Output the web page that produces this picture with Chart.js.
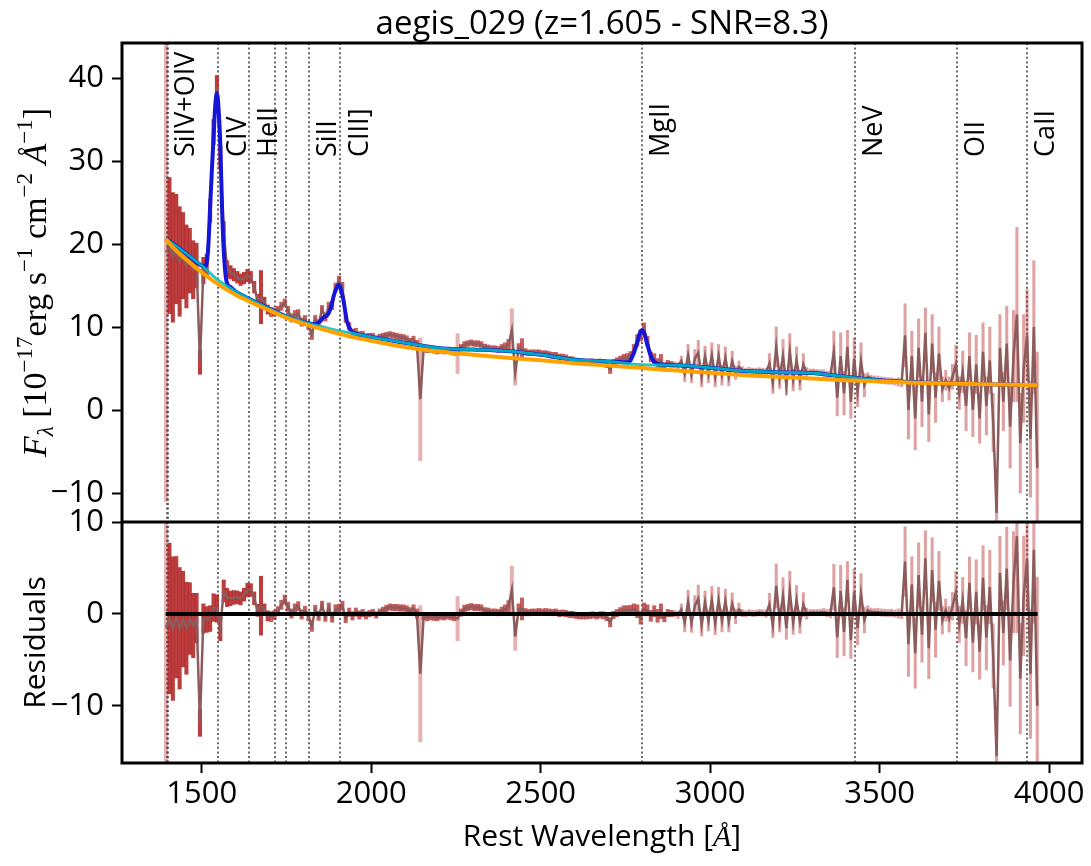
<!DOCTYPE html>
<html>
<head>
<meta charset="utf-8">
<script src="https://cdn.jsdelivr.net/npm/chart.js@4.4.1/dist/chart.umd.min.js"></script>
<style>
  html, body { margin: 0; padding: 0; background: #fff; }
</style>
</head>
<body>
<canvas id="spec" width="1091" height="866"></canvas>
<script>
// Rest-frame spectrum, 10 A grid
const wave = [
  1395, 1405, 1415, 1425, 1435, 1445, 1455, 1465, 1475, 1485,
  1495, 1505, 1515, 1525, 1535, 1545, 1555, 1565, 1575, 1585,
  1595, 1605, 1615, 1625, 1635, 1645, 1655, 1665, 1675, 1685,
  1695, 1705, 1715, 1725, 1735, 1745, 1755, 1765, 1775, 1785,
  1795, 1805, 1815, 1825, 1835, 1845, 1855, 1865, 1875, 1885,
  1895, 1905, 1915, 1925, 1935, 1945, 1955, 1965, 1975, 1985,
  1995, 2005, 2015, 2025, 2035, 2045, 2055, 2065, 2075, 2085,
  2095, 2105, 2115, 2125, 2135, 2145, 2155, 2165, 2175, 2185,
  2195, 2205, 2215, 2225, 2235, 2245, 2255, 2265, 2275, 2285,
  2295, 2305, 2315, 2325, 2335, 2345, 2355, 2365, 2375, 2385,
  2395, 2405, 2415, 2425, 2435, 2445, 2455, 2465, 2475, 2485,
  2495, 2505, 2515, 2525, 2535, 2545, 2555, 2565, 2575, 2585,
  2595, 2605, 2615, 2625, 2635, 2645, 2655, 2665, 2675, 2685,
  2695, 2705, 2715, 2725, 2735, 2745, 2755, 2765, 2775, 2785,
  2795, 2805, 2815, 2825, 2835, 2845, 2855, 2865, 2875, 2885,
  2895, 2905, 2915, 2925, 2935, 2945, 2955, 2965, 2975, 2985,
  2995, 3005, 3015, 3025, 3035, 3045, 3055, 3065, 3075, 3085,
  3095, 3105, 3115, 3125, 3135, 3145, 3155, 3165, 3175, 3185,
  3195, 3205, 3215, 3225, 3235, 3245, 3255, 3265, 3275, 3285,
  3295, 3305, 3315, 3325, 3335, 3345, 3355, 3365, 3375, 3385,
  3395, 3405, 3415, 3425, 3435, 3445, 3455, 3465, 3475, 3485,
  3495, 3505, 3515, 3525, 3535, 3545, 3555, 3565, 3575, 3585,
  3595, 3605, 3615, 3625, 3635, 3645, 3655, 3665, 3675, 3685,
  3695, 3705, 3715, 3725, 3735, 3745, 3755, 3765, 3775, 3785,
  3795, 3805, 3815, 3825, 3835, 3845, 3855, 3865, 3875, 3885,
  3895, 3905, 3915, 3925, 3935, 3945, 3955, 3965
];

const flux = [
  19.0, 19.8, 18.4, 19.4, 17.9, 18.6, 17.3, 18.0, 16.9, 17.4,
  5.8, 16.8, 17.4, 24.0, 33.5, 38.8, 30.5, 21.5, 17.0, 16.6,
  16.3, 16.0, 15.7, 15.9, 16.2, 16.0, 14.8, 13.3, 13.6, 13.0,
  12.1, 11.8, 11.8, 12.0, 12.5, 12.9, 12.0, 11.1, 11.5, 11.6,
  10.6, 10.9, 10.2, 9.1, 10.9, 10.4, 12.1, 11.2, 12.5, 12.6,
  14.8, 15.6, 14.9, 11.0, 10.1, 9.3, 9.4, 9.0, 9.1, 8.8,
  8.9, 8.9, 8.6, 8.8, 8.9, 9.0, 9.1, 9.0, 8.9, 8.8,
  8.75, 8.6, 8.3, 8.5, 7.9, 1.3, 7.5, 7.3, 7.3, 7.2,
  7.1, 7.2, 7.1, 7.2, 7.1, 7.0, 6.8, 7.5, 7.9, 8.0,
  8.1, 8.0, 8.0, 7.9, 7.6, 7.5, 7.4, 7.4, 7.3, 7.5,
  7.6, 7.8, 9.6, 4.5, 7.4, 7.4, 7.0, 6.9, 6.9, 6.9,
  6.9, 6.8, 6.8, 6.7, 6.6, 6.6, 6.4, 6.4, 6.3, 6.1,
  6.05, 5.9, 5.8, 5.8, 5.75, 5.8, 5.8, 5.7, 5.8, 5.7,
  5.5, 4.9, 5.7, 5.9, 6.1, 6.2, 6.3, 6.5, 7.3, 8.4,
  9.0, 9.8, 8.3, 6.4, 6.2, 5.5, 5.9, 5.2, 5.6, 5.5,
  5.45, 5.3, 5.9, 4.4, 6.6, 4.3, 6.2, 6.9, 4.0, 6.5,
  4.4, 6.6, 4.0, 6.5, 4.2, 6.3, 4.0, 5.9, 4.5, 5.2,
  4.8, 4.7, 4.8, 4.7, 4.7, 4.75, 4.7, 4.6, 5.6, 3.3,
  7.6, 3.9, 6.5, 3.0, 7.0, 3.6, 6.0, 3.6, 5.5, 4.5,
  4.6, 4.6, 4.55, 4.5, 4.45, 4.3, 4.2, 7.0, 1.5, 6.5,
  2.0, 7.6, 1.0, 6.2, 2.2, 5.9, 3.0, 4.0, 3.8, 3.7,
  3.7, 3.6, 3.55, 3.5, 3.5, 3.4, 3.4, 3.3, 9.0, 0.0,
  6.5, -1.0, 7.5, 1.0, 9.3, -0.5, 8.0, 1.5, 6.8, 2.5,
  3.6, 2.6, 4.0, 5.5, 2.0, 4.6, 0.5, 6.5, 0.0, 5.5,
  -1.0, 7.0, 0.5, 6.0, -1.5, -12.4, 7.5, 1.0, 8.0, -2.0,
  6.5, 11.5, -4.0, 5.0, 9.0, -3.5, 10.0, -7.0
];

const fluxErr = [
  30, 8.2, 7.8, 6.6, 6.6, 5.2, 5.0, 3.9, 3.5, 2.7,
  1.5, 1.6, 1.4, 1.4, 1.5, 1.5, 1.4, 1.2, 1.0, 0.8,
  0.75, 0.7, 0.7, 0.7, 0.75, 0.7, 0.7, 0.65, 3.2, 0.6,
  0.55, 0.55, 0.5, 0.5, 0.5, 0.5, 0.5, 0.5, 0.5, 0.5,
  0.5, 0.5, 0.5, 0.6, 0.5, 0.5, 0.5, 0.5, 0.5, 0.5,
  0.5, 0.55, 0.5, 0.45, 0.45, 0.45, 0.45, 0.45, 0.4, 0.4,
  0.35, 0.35, 0.35, 0.35, 0.35, 0.35, 0.35, 0.35, 0.35, 0.35,
  0.35, 0.35, 0.35, 0.4, 0.5, 7.4, 0.4, 0.4, 0.35, 0.35,
  0.35, 0.35, 0.35, 0.35, 0.35, 0.4, 2.4, 0.4, 0.35, 0.35,
  0.35, 0.35, 0.35, 0.35, 0.35, 0.35, 0.35, 0.35, 0.35, 0.4,
  0.5, 0.7, 2.6, 1.5, 0.6, 1.2, 0.4, 0.35, 0.35, 0.35,
  0.35, 0.35, 0.35, 0.35, 0.35, 0.35, 0.35, 0.35, 0.35, 0.35,
  0.35, 0.35, 0.35, 0.35, 0.35, 0.35, 0.35, 0.35, 0.35, 0.4,
  0.4, 0.5, 0.4, 0.4, 0.4, 0.5, 0.5, 0.55, 0.6, 0.7,
  0.7, 0.7, 0.6, 0.6, 0.6, 0.7, 0.8, 0.5, 0.4, 0.35,
  0.35, 0.4, 0.6, 1.0, 1.3, 1.0, 1.1, 1.5, 1.2, 1.2,
  1.1, 1.5, 1.2, 1.4, 1.2, 1.3, 1.1, 1.2, 0.8, 0.7,
  0.4, 0.35, 0.35, 0.35, 0.35, 0.35, 0.35, 0.4, 1.2, 1.3,
  2.4, 1.3, 2.0, 1.2, 2.2, 1.3, 1.6, 1.2, 1.3, 0.6,
  0.35, 0.35, 0.35, 0.35, 0.4, 0.4, 0.5, 2.5, 2.2, 2.8,
  2.6, 2.0, 2.0, 2.5, 1.8, 2.2, 1.4, 0.5, 0.4, 0.4,
  0.4, 0.4, 0.4, 0.4, 0.4, 0.4, 0.5, 0.5, 3.8, 3.5,
  3.0, 3.8, 3.5, 3.0, 3.0, 3.3, 3.5, 3.0, 3.2, 1.5,
  1.2, 1.4, 1.5, 2.3, 2.0, 2.5, 3.0, 2.8, 3.2, 3.5,
  3.0, 3.5, 3.5, 4.0, 3.5, 3.0, 4.0, 3.5, 4.5, 5.0,
  5.5, 10.5, 6.0, 6.5, 5.5, 7.0, 8.0, 14
];

// data minus full model (lower panel)
const resid = [
  -1.5, -0.5, -1.6, -0.35, -1.55, -0.55, -1.55, -0.5, -1.25, -0.45,
  -11.8, -0.5, -0.6, -0.5, 0.7, 0.6, -1.5, 2.5, 1.8, 1.7,
  1.8, 1.8, 1.7, 2.1, 2.6, 2.6, 1.7, 0.4, 0.9, 0.5,
  -0.2, -0.3, -0.1, 0.3, 1.0, 1.55, 0.8, 0.05, 0.6, 0.85,
  -0.05, 0.35, -0.25, -1.3, 0.45, -0.2, 0.9, -0.3, 0.7, -0.4,
  0.5, 0.5, 0.9, -0.5, 0.2, -0.2, 0.2, -0.1, 0.1, -0.15,
  0.05, 0.15, -0.1, 0.2, 0.4, 0.6, 0.75, 0.7, 0.7, 0.65,
  0.65, 0.55, 0.35, 0.6, 0.05, -6.5, -0.2, -0.35, -0.3, -0.35,
  -0.4, -0.25, -0.3, -0.2, -0.3, -0.35, -0.5, 0.15, 0.6, 0.7,
  0.8, 0.7, 0.7, 0.65, 0.35, 0.3, 0.2, 0.2, 0.15, 0.35,
  0.5, 0.75, 2.6, -2.45, 0.5, 0.55, 0.2, 0.15, 0.2, 0.2,
  0.25, 0.2, 0.25, 0.2, 0.15, 0.2, 0.05, 0.1, 0.05, -0.05,
  -0.05, -0.15, -0.2, -0.2, -0.2, -0.15, -0.1, -0.2, -0.1, -0.15,
  -0.35, -0.9, -0.1, 0.1, 0.3, 0.4, 0.4, 0.4, 0.5, 0.3,
  -0.4, 0.5, 0.4, -0.2, 0.3, -0.2, 0.3, -0.35, 0.1, 0.05,
  0.03, -0.1, 0.5, -0.95, 1.3, -1.0, 0.9, 1.65, -1.2, 1.3,
  -0.75, 1.5, -1.05, 1.5, -0.75, 1.4, -0.85, 1.1, -0.25, 0.5,
  0.1, 0.02, 0.14, 0.06, 0.08, 0.15, 0.12, 0.04, 1.05, -1.25,
  3.05, -0.65, 1.95, -1.55, 2.45, -0.93, 1.5, -0.9, 1.02, 0.04,
  0.15, 0.16, 0.15, 0.17, 0.2, 0.1, 0.05, 2.9, -2.55, 2.5,
  -1.95, 3.7, -2.85, 2.4, -1.55, 2.2, -0.65, 0.4, 0.24, 0.18,
  0.22, 0.15, 0.13, 0.1, 0.12, 0.04, 0.06, -0.02, 5.7, -3.29,
  3.22, -4.27, 4.24, -2.25, 6.06, -3.73, 4.78, -1.71, 3.6, -0.69,
  0.42, -0.57, 0.84, 2.35, -1.14, 1.47, -2.62, 3.39, -3.1, 2.4,
  -4.09, 3.92, -2.58, 2.93, -4.57, -15.46, 4.44, -2.05, 4.95, -5.04,
  3.46, 8.46, -7.03, 1.97, 5.97, -6.52, 6.98, -10.0
];

// Power-law continuum (orange) and continuum + FeII (cyan)
const contWave = [1394, 1420, 1450, 1500, 1550, 1600, 1650, 1700, 1750, 1800, 1850, 1900,
  1950, 2000, 2100, 2200, 2300, 2400, 2500, 2600, 2700, 2800, 2900, 3000, 3100, 3200,
  3300, 3400, 3500, 3600, 3700, 3800, 3900, 3966];
const contFlux = [20.6, 19.4, 18.3, 16.6, 15.1, 13.9, 12.9, 12.0, 11.1, 10.4, 9.8, 9.25,
  8.75, 8.35, 7.6, 7.05, 6.65, 6.3, 6.0, 5.65, 5.35, 5.05, 4.75, 4.5, 4.2, 4.0,
  3.8, 3.6, 3.45, 3.3, 3.2, 3.1, 3.05, 3.0];
const feFlux = [20.6, 19.9, 19.0, 17.4, 15.6, 14.3, 13.2, 12.2, 11.3, 10.6, 10.1, 9.6,
  9.2, 8.8, 8.1, 7.45, 7.3, 7.1, 6.65, 6.05, 5.85, 5.45, 5.4, 5.1, 4.7, 4.55,
  4.45, 4.0, 3.6, 3.35, 3.2, 3.1, 3.05, 3.0];

// Full model with emission lines (blue)
const modelWave = [1394, 1420, 1450, 1480, 1500, 1510, 1516, 1520, 1525, 1530, 1535, 1540,
  1545, 1550, 1555, 1560, 1566, 1574, 1585, 1600, 1650, 1700, 1750, 1800, 1835, 1850,
  1860, 1870, 1880, 1890, 1900, 1905, 1910, 1918, 1928, 1940, 1960, 2000, 2100, 2200,
  2300, 2400, 2500, 2600, 2700, 2760, 2774, 2784, 2792, 2799, 2806, 2814, 2828, 2843,
  2870, 2900, 3000, 3100, 3200, 3300, 3400, 3500, 3600, 3700, 3800, 3900, 3966];
const modelFlux = [20.6, 19.9, 19.0, 18.0, 17.4, 17.3, 18.0, 20.0, 24.5, 28.8, 32.8, 36.6,
  38.2, 36.2, 32.0, 24.5, 18.6, 15.4, 14.8, 14.3, 13.2, 12.2, 11.3, 10.6, 10.35, 10.7,
  11.2, 11.4, 12.2, 13.8, 14.9, 15.1, 14.6, 13.3, 10.8, 9.6, 9.15, 8.8, 8.1, 7.45,
  7.3, 7.1, 6.65, 6.05, 5.85, 5.75, 6.8, 8.0, 9.2, 9.6, 9.2, 8.0, 6.2, 5.6,
  5.45, 5.4, 5.1, 4.7, 4.55, 4.45, 4.0, 3.6, 3.35, 3.2, 3.1, 3.05, 3.0];

// Emission line markers
const lineWaves = [1397, 1402, 1549, 1640, 1716, 1750, 1816, 1909, 2798, 3426, 3727, 3934];
const lineNames = ['SiIV+OIV', '', 'CIV', 'HeII', '', '', 'SiII', 'CIII]', 'MgII', 'NeV', 'OII', 'CaII'];

const xTicks = [1500, 2000, 2500, 3000, 3500, 4000];
const fluxTicks = [-10, 0, 10, 20, 30, 40];
const residTicks = [-10, 0, 10];

const TITLE = 'aegis_029 (z=1.605 - SNR=8.3)';
const SANS = '"Open Sans", "DejaVu Sans", sans-serif';
const SERIF = '"Liberation Serif", "DejaVu Serif", serif';
const TICK_FONT = { family: SANS, size: 31 };
const NOISY_FROM = 2890;   // past this the pixels are sparse and noisy

Chart.defaults.font.family = SANS;

function pairs(xs, ys) {
  return xs.map((x, i) => ({ x: x, y: ys[i] }));
}
function errBars(ys, es, lo, hi) {
  const out = [];
  wave.forEach((w, i) => {
    if (w >= lo && w < hi) out.push({ x: w, y: [ys[i] - es[i], ys[i] + es[i]] });
  });
  return out;
}
function minusLabel(v) {
  return v < 0 ? '\u2212' + Math.abs(v) : String(v);
}
// strong red where pixels overlap, pale for isolated wide error bars
function denseColor(ctx) {
  const raw = ctx.raw;
  if (!raw) return 'rgba(178,34,34,0.8)';
  const e = (raw.y[1] - raw.y[0]) / 2;
  if (e > 12) return 'rgba(178,34,34,0.35)';
  if (raw.x < 1700) return 'rgba(178,34,34,0.88)';
  return e > 1.4 ? 'rgba(178,34,34,0.35)' : 'rgba(178,34,34,0.72)';
}

// draw a string made of pieces with their own font and baseline shift
function drawRich(ctx, pieces, cx, cy) {
  let total = 0;
  pieces.forEach(p => { ctx.font = p.f; p.w = ctx.measureText(p.t).width; total += p.w; });
  let u = cx - total / 2;
  pieces.forEach(p => {
    ctx.font = p.f;
    ctx.fillText(p.t, u, cy + (p.dy || 0));
    u += p.w;
  });
}

// clip each dataset to its own panel
const panelClip = {
  id: 'panelClip',
  beforeDatasetDraw(chart, args) {
    const ys = chart.scales[args.meta.yAxisID];
    const a = chart.chartArea;
    const ctx = chart.ctx;
    ctx.save();
    ctx.beginPath();
    ctx.rect(a.left, ys.top, a.right - a.left, ys.bottom - ys.top);
    ctx.clip();
  },
  afterDatasetDraw(chart) {
    chart.ctx.restore();
  }
};

const lineMarks = {
  id: 'lineMarks',
  beforeDatasetsDraw(chart) {
    const ctx = chart.ctx, a = chart.chartArea, xs = chart.scales.x;
    ctx.save();
    ctx.strokeStyle = 'rgba(80,80,80,0.85)';
    ctx.lineWidth = 2;
    ctx.setLineDash([2, 2.6]);
    lineWaves.forEach(w => {
      const px = Math.round(xs.getPixelForValue(w));
      ctx.beginPath();
      ctx.moveTo(px, a.top);
      ctx.lineTo(px, a.bottom);
      ctx.stroke();
    });
    ctx.restore();
  },
  afterDraw(chart) {
    const ctx = chart.ctx, a = chart.chartArea, xs = chart.scales.x;
    const split = chart.scales.y.bottom;
    ctx.save();
    ctx.fillStyle = '#000';

    // line labels
    ctx.font = '27px ' + SANS;
    ctx.textAlign = 'left';
    ctx.textBaseline = 'middle';
    lineWaves.forEach((w, i) => {
      if (!lineNames[i]) return;
      ctx.save();
      ctx.translate(xs.getPixelForValue(w) + 20, 157);
      ctx.rotate(-Math.PI / 2);
      ctx.fillText(lineNames[i], 0, 0);
      ctx.restore();
    });

    // title
    ctx.textAlign = 'center';
    ctx.font = '33px ' + SANS;
    ctx.fillText(TITLE, (a.left + a.right) / 2, 25);

    // x axis title
    ctx.textAlign = 'left';
    ctx.textBaseline = 'alphabetic';
    drawRich(ctx, [
      { t: 'Rest Wavelength [', f: '30px ' + SANS },
      { t: '\u00C5', f: 'italic 30px ' + SERIF },
      { t: ']', f: '30px ' + SANS }
    ], (a.left + a.right) / 2, 846);

    // flux axis title
    ctx.save();
    ctx.translate(46, (a.top + split) / 2);
    ctx.rotate(-Math.PI / 2);
    const base = '34px ' + SERIF, sup = '23px ' + SERIF;
    drawRich(ctx, [
      { t: 'F', f: 'italic ' + base },
      { t: '\u03BB', f: 'italic ' + sup, dy: 7 },
      { t: ' [10', f: base },
      { t: '\u221217', f: sup, dy: -14 },
      { t: 'erg s', f: base },
      { t: '\u22121', f: sup, dy: -14 },
      { t: ' cm', f: base },
      { t: '\u22122', f: sup, dy: -14 },
      { t: ' \u00C5', f: 'italic ' + base },
      { t: '\u22121', f: sup, dy: -14 },
      { t: ']', f: base }
    ], 0, 0);
    ctx.restore();

    // residual axis title
    ctx.save();
    ctx.translate(45, (split + a.bottom) / 2);
    ctx.rotate(-Math.PI / 2);
    ctx.textAlign = 'center';
    ctx.font = '30px ' + SANS;
    ctx.fillText('Residuals', 0, 0);
    ctx.restore();

    // panel frames
    ctx.strokeStyle = '#000';
    ctx.lineWidth = 3;
    ctx.strokeRect(a.left, a.top, a.right - a.left, a.bottom - a.top);
    ctx.beginPath();
    ctx.moveTo(a.left, split);
    ctx.lineTo(a.right, split);
    ctx.stroke();
    ctx.restore();
  }
};

const yCommon = {
  type: 'linear',
  position: 'left',
  stack: 'panels',
  border: { display: false },
  grid: { drawOnChartArea: false, drawTicks: true, tickLength: 10, tickWidth: 2, tickColor: '#000' },
  afterFit(scale) { scale.width = 122; }
};

const brown = '#8c5b5b';

new Chart(document.getElementById('spec'), {
  type: 'line',
  data: {
    datasets: [
      // upper panel
      { type: 'bar', yAxisID: 'y', data: errBars(flux, fluxErr, 0, NOISY_FROM), backgroundColor: denseColor,
        borderWidth: 0, barThickness: 3.4, grouped: false, order: 10 },
      { type: 'bar', yAxisID: 'y', data: errBars(flux, fluxErr, NOISY_FROM, 9999), backgroundColor: 'rgba(178,34,34,0.42)',
        borderWidth: 0, barThickness: 2.4, grouped: false, order: 10 },
      { yAxisID: 'y', data: pairs(wave, flux), borderColor: brown, borderWidth: 2.5,
        pointRadius: 0, order: 8 },
      { yAxisID: 'y', data: pairs(modelWave, modelFlux), borderColor: '#1616d6', borderWidth: 4,
        pointRadius: 0, cubicInterpolationMode: 'monotone', order: 7 },
      { yAxisID: 'y', data: pairs(contWave, feFlux), borderColor: 'rgba(0,190,195,0.85)', borderWidth: 3,
        pointRadius: 0, cubicInterpolationMode: 'monotone', order: 6 },
      { yAxisID: 'y', data: pairs(contWave, contFlux), borderColor: '#ffa200', borderWidth: 4,
        pointRadius: 0, cubicInterpolationMode: 'monotone', order: 5 },
      // lower panel
      { type: 'bar', yAxisID: 'y2', data: errBars(resid, fluxErr, 0, NOISY_FROM), backgroundColor: denseColor,
        borderWidth: 0, barThickness: 3.4, grouped: false, order: 4 },
      { type: 'bar', yAxisID: 'y2', data: errBars(resid, fluxErr, NOISY_FROM, 9999), backgroundColor: 'rgba(178,34,34,0.42)',
        borderWidth: 0, barThickness: 2.4, grouped: false, order: 4 },
      { yAxisID: 'y2', data: pairs(wave, resid), borderColor: brown, borderWidth: 2.5,
        pointRadius: 0, order: 3 },
      { yAxisID: 'y2', data: [{ x: wave[0] - 1, y: 0 }, { x: wave[wave.length - 1] + 1, y: 0 }],
        borderColor: '#000', borderWidth: 4, pointRadius: 0, order: 2 }
    ]
  },
  options: {
    responsive: false,
    animation: false,
    events: [],
    layout: { padding: { top: 43, right: 9, left: 0, bottom: 0 } },
    plugins: { legend: { display: false }, tooltip: { enabled: false } },
    scales: {
      x: {
        type: 'linear', min: 1265, max: 4097, offset: false,
        border: { display: false },
        grid: { drawOnChartArea: false, drawTicks: true, tickLength: 10, tickWidth: 2, tickColor: '#000', offset: false },
        ticks: { font: TICK_FONT, color: '#000', padding: 3, maxRotation: 0, autoSkip: false,
                 callback: v => String(v) },
        afterBuildTicks(scale) { scale.ticks = xTicks.map(v => ({ value: v })); },
        afterFit(scale) { scale.height = 103; }
      },
      // stacked panels: listed bottom first
      y2: Object.assign({}, yCommon, {
        stackWeight: 241, min: -16.2, max: 10,
        ticks: { font: TICK_FONT, color: '#000', padding: 8, autoSkip: false, callback: minusLabel },
        afterBuildTicks(scale) { scale.ticks = residTicks.map(v => ({ value: v })); }
      }),
      y: Object.assign({}, yCommon, {
        stackWeight: 479, min: -13.49, max: 44.22,
        ticks: { font: TICK_FONT, color: '#000', padding: 8, autoSkip: false, callback: minusLabel },
        afterBuildTicks(scale) { scale.ticks = fluxTicks.map(v => ({ value: v })); }
      })
    }
  },
  plugins: [panelClip, lineMarks]
});
</script>
</body>
</html>
